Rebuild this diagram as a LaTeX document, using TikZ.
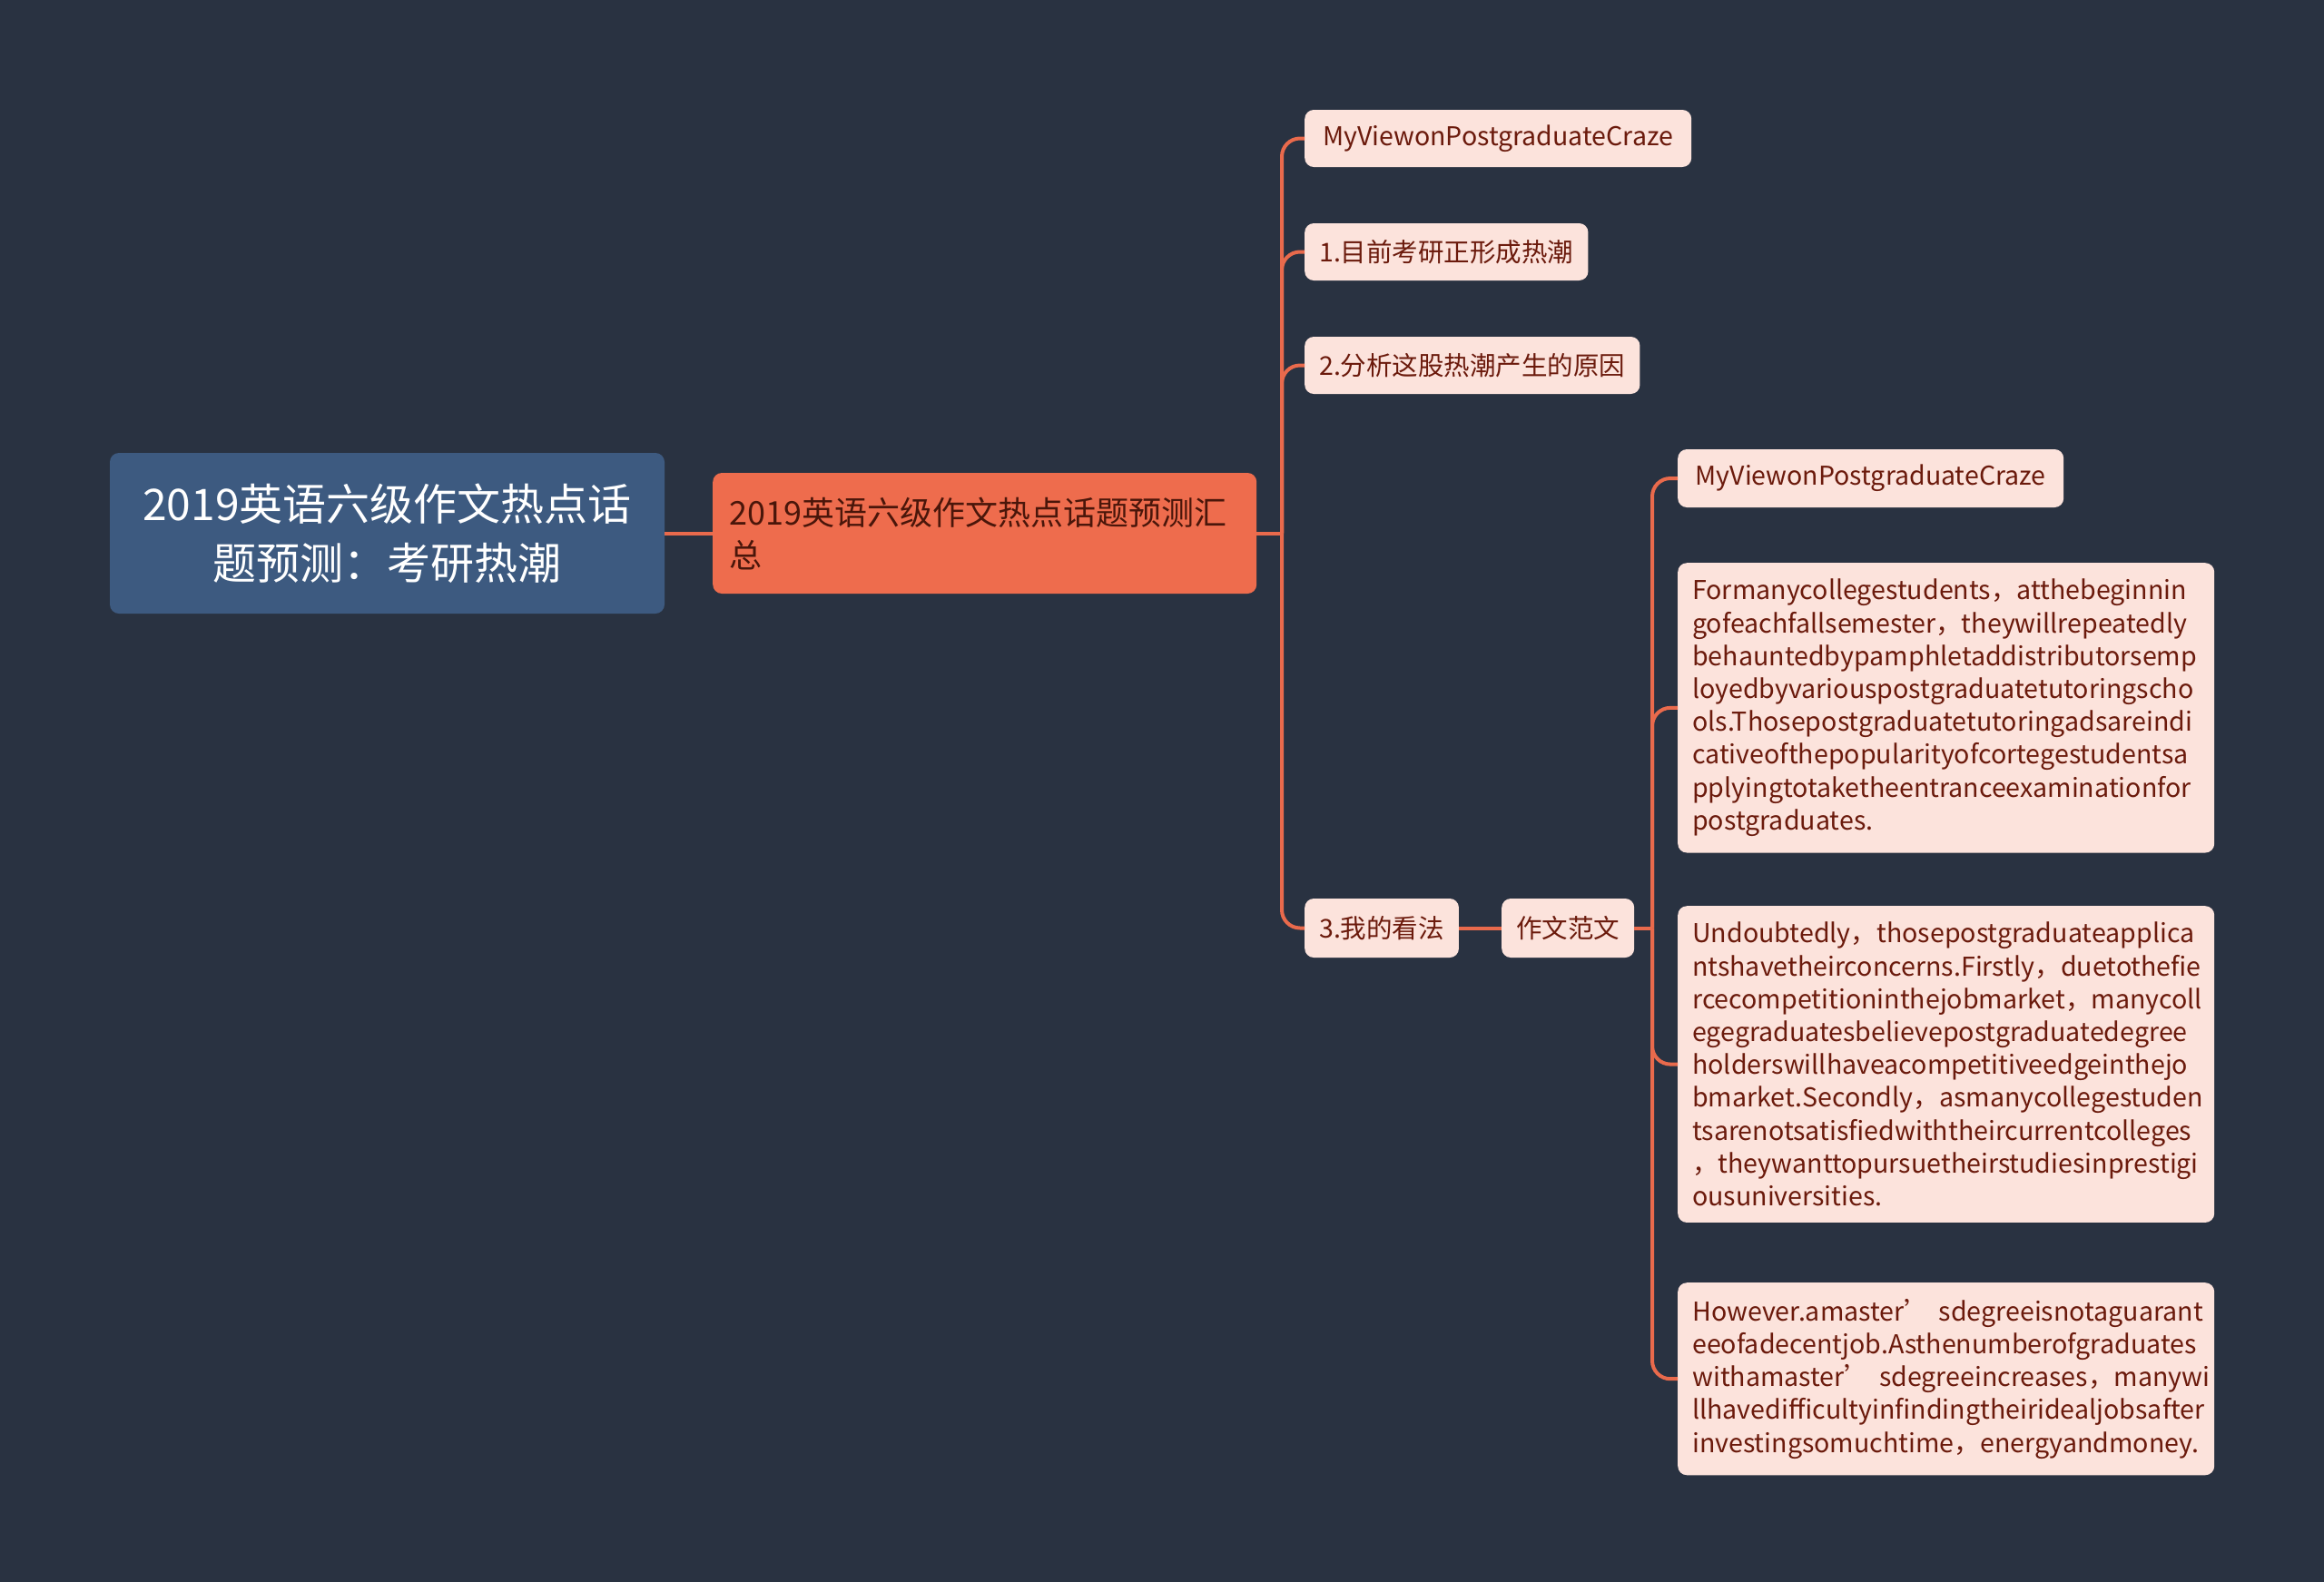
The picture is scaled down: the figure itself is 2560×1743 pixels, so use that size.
\documentclass[tikz,border=0pt]{standalone}
\usepackage{fontspec}
\setmainfont{Noto Sans CJK SC}
\definecolor{bg}{HTML}{293241}
\definecolor{rootc}{HTML}{3D5A80}
\definecolor{orangec}{HTML}{EE6C4D}
\definecolor{leafc}{HTML}{FCE3DC}
\definecolor{leaftext}{HTML}{6B1A0C}
\definecolor{maintext}{HTML}{4A160A}
\definecolor{linec}{HTML}{E96A4C}
\begin{document}
\begin{tikzpicture}[x=1pt,y=-1pt,
  conn/.style={draw=linec, line width=4pt, rounded corners=20pt},
  rootbox/.style={fill=rootc, rounded corners=10pt, text=white, font=\fontsize{48}{65}\selectfont, align=center, minimum width=611pt, minimum height=177pt, inner sep=0pt},
  mainbox/.style={fill=orangec, rounded corners=10pt, text=maintext, font=\fontsize{36}{47}\selectfont, align=left, text width=563pt, inner xsep=18pt, inner ysep=0pt, minimum height=133pt, anchor=west},
  leaf/.style={fill=leafc, rounded corners=10pt, text=leaftext, font=\fontsize{28.5}{36.3}\selectfont, inner xsep=16pt, inner ysep=0pt, minimum height=63pt, anchor=west},
  para/.style={fill=leafc, rounded corners=10pt, text=leaftext, font=\fontsize{28.6}{36.2}\selectfont, inner xsep=16pt, inner ysep=18pt, anchor=north west, text width=559pt, align=left},
]
\fill[bg] (0,0) rectangle (2560,1743);
\useasboundingbox (0,0) rectangle (2560,1743);

\node[rootbox] (root) at (426.5,587.5) {2019英语六级作文热点话\\题预测：考研热潮};
\node[mainbox] (main) at (785,587.5) {2019英语六级作文热点话题预测汇\\总};

\node[leaf, minimum width=426pt] (c1) at (1437,152.5) {MyViewonPostgraduateCraze};
\node[leaf, minimum width=305pt] (c2) at (1437,277.5) {1.目前考研正形成热潮};
\node[leaf, minimum width=361pt] (c3) at (1437,402.5) {2.分析这股热潮产生的原因};
\node[leaf, minimum width=165pt, minimum height=65pt] (c4) at (1437,1022.5) {3.我的看法};
\node[leaf, minimum width=141pt, minimum height=65pt] (c5) at (1654,1022.5) {作文范文};

\node[leaf, minimum width=425pt, minimum height=64pt] (d1) at (1848,527) {MyViewonPostgraduateCraze};
\node[para] (p1) at (1848,620) {\mbox{Formanycollegestudents，atthebeginnin}\\
\mbox{gofeachfallsemester，theywillrepeatedly}\\
\mbox{behauntedbypamphletaddistributorsemp}\\
\mbox{loyedbyvariouspostgraduatetutoringscho}\\
\mbox{ols.Thosepostgraduatetutoringadsareindi}\\
\mbox{cativeofthepopularityofcortegestudentsa}\\
\mbox{pplyingtotaketheentranceexaminationfor}\\
\mbox{postgraduates.}};
\node[para] (p2) at (1848,998) {\mbox{Undoubtedly，thosepostgraduateapplica}\\
\mbox{ntshavetheirconcerns.Firstly，duetothefie}\\
\mbox{rcecompetitioninthejobmarket，manycoll}\\
\mbox{egegraduatesbelievepostgraduatedegree}\\
\mbox{holderswillhaveacompetitiveedgeinthejo}\\
\mbox{bmarket.Secondly，asmanycollegestuden}\\
\mbox{tsarenotsatisfiedwiththeircurrentcolleges}\\
\mbox{，theywanttopursuetheirstudiesinprestigi}\\
\mbox{ousuniversities.}};
\node[para] (p3) at (1848,1413) {\mbox{However.amaster’ sdegreeisnotaguarant}\\
\mbox{eeofadecentjob.Asthenumberofgraduates}\\
\mbox{withamaster’ sdegreeincreases，manywi}\\
\mbox{llhavedifficultyinfindingtheiridealjobsafter}\\
\mbox{investingsomuchtime，energyandmoney.}};

\coordinate (t1) at (1412,587.5);
\coordinate (t2) at (1820,1022.5);
\draw[conn] (root.east) -- (main.west);
\draw[conn] (main.east) -- (t1);
\foreach \c in {c1,c2,c3,c4} \draw[conn] (t1) |- (\c.west);
\draw[conn] (c4.east) -- (c5.west);
\draw[conn] (c5.east) -- (t2);
\foreach \c in {d1,p1,p2,p3} \draw[conn] (t2) |- (\c.west);
\end{tikzpicture}
\end{document}
